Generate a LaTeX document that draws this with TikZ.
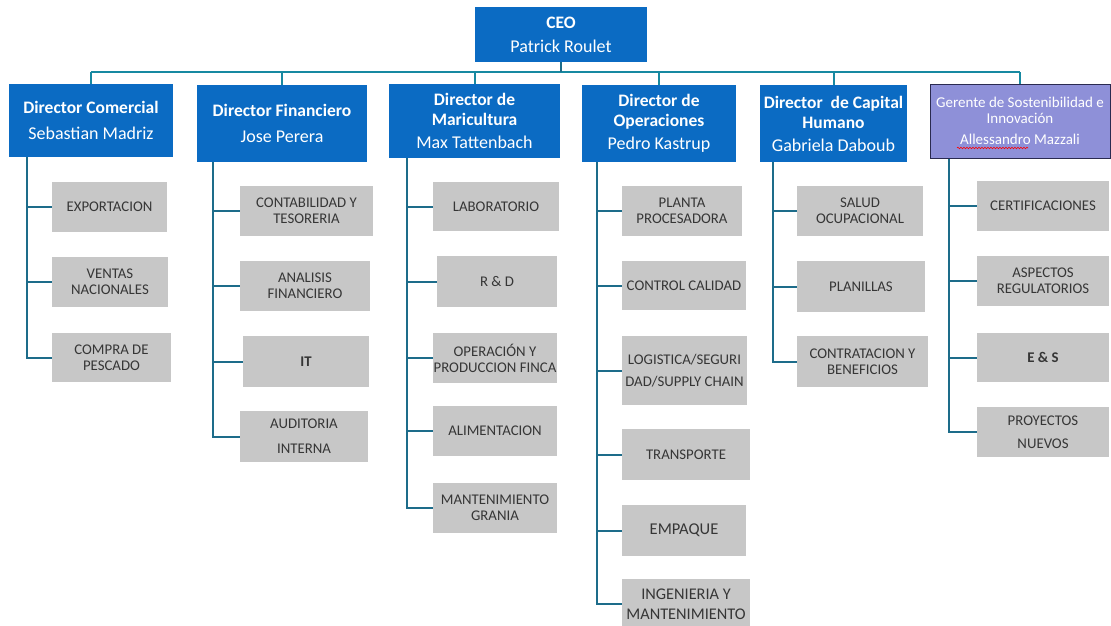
\documentclass[tikz,border=0pt]{standalone}
\usepackage{fontspec}
\setmainfont{Carlito}
\usetikzlibrary{decorations.pathmorphing}
\definecolor{dirblue}{HTML}{0B6BC3}
\definecolor{gerpurple}{HTML}{8E90D8}
\definecolor{gerborder}{HTML}{2A2A50}
\definecolor{subgray}{HTML}{C7C7C7}
\definecolor{subtext}{HTML}{363636}
\definecolor{connteal}{HTML}{1D6C8A}
\newcommand{\nm}[1]{{\mdseries\fontsize{18}{21}\selectfont #1}}
\begin{document}
\begin{tikzpicture}[x=1pt,y=-1pt,
  dirbox/.style={fill=dirblue, text=white, align=center, inner sep=0pt, font=\bfseries\fontsize{17.5}{20}\selectfont},
  gerbox/.style={fill=gerpurple, draw=gerborder, line width=1pt, text=white, align=center, inner sep=0pt, font=\fontsize{15}{19}\selectfont},
  subbox/.style={fill=subgray, text=subtext, align=center, inner sep=0pt, font=\fontsize{14.8}{16}\selectfont},
  conn/.style={draw=connteal, line width=2pt},
  bus/.style={draw=connteal!80!cyan, line width=2pt}]
\useasboundingbox (0,0) rectangle (1111,626);
\fill[white] (0,0) rectangle (1111,626);

% CEO
\node[dirbox, minimum width=172pt, minimum height=55pt] (ceo) at (561,34.5) {CEO\\[4pt]\nm{Patrick Roulet}};

% Directors
\node[dirbox, minimum width=164pt, minimum height=73pt] (d1) at (91,120.5) {Director Comercial\\[6pt]\nm{Sebastian Madriz}};
\node[dirbox, minimum width=170pt, minimum height=77pt] (d2) at (282,123.5) {Director Financiero\\[6pt]\nm{Jose Perera}};
\node[dirbox, minimum width=171pt, minimum height=74pt] (d3) at (474.5,121) {Director de\\[0pt]Maricultura\\[3pt]\nm{Max Tattenbach}};
\node[dirbox, minimum width=154pt, minimum height=77pt] (d4) at (659,123.5) {Director de\\[0pt]Operaciones\\[3pt]\nm{Pedro Kastrup}};
\node[dirbox, minimum width=147pt, minimum height=77pt] (d5) at (833.5,123.5) {Director~ de Capital\\[0pt]Humano\\[3pt]\nm{Gabriela Daboub}};
\node[gerbox, minimum width=180pt, minimum height=74pt] (d6) at (1020,121) {Gerente de Sostenibilidad e\\[-3pt]Innovación\\[2pt]Allessandro Mazzali};
\draw[red, line width=0.6pt, decorate, decoration={snake, amplitude=0.8pt, segment length=3pt}] (957,148) -- (1028,148);

% bus
\coordinate (bus) at (0,72);
\draw[bus] (d1.north |- bus) -- (d6.north |- bus);
\draw[conn] (ceo.south) -- (ceo.south |- bus);
\foreach \d in {d1,d2,d3,d4,d5,d6} {\draw[bus] (\d.north) -- (\d.north |- bus);}

% Column 1
\node[subbox, minimum width=115pt, minimum height=50pt] (c1a) at (109.5,207) {EXPORTACION};
\node[subbox, minimum width=116pt, minimum height=50pt] (c1b) at (110,282) {VENTAS\\NACIONALES};
\node[subbox, minimum width=119pt, minimum height=49pt] (c1c) at (111.5,357.5) {COMPRA DE\\PESCADO};
\coordinate (v1) at (27,0);

% Column 2
\node[subbox, minimum width=133pt, minimum height=50pt] (c2a) at (306.5,211) {CONTABILIDAD Y\\TESORERIA};
\node[subbox, minimum width=130pt, minimum height=50pt] (c2b) at (305,286) {ANALISIS\\FINANCIERO};
\node[subbox, minimum width=126pt, minimum height=51pt, font=\bfseries\fontsize{14.8}{16}\selectfont] (c2c) at (306,361.5) {IT};
\node[subbox, minimum width=128pt, minimum height=51pt] (c2d) at (304,436.5) {AUDITORIA\\[9pt]INTERNA};
\coordinate (v2) at (213,0);

% Column 3
\node[subbox, minimum width=126pt, minimum height=49pt] (c3a) at (496,206.5) {LABORATORIO};
\node[subbox, minimum width=120pt, minimum height=51pt] (c3b) at (497,281.5) {R \& D};
\node[subbox, minimum width=124pt, minimum height=50pt] (c3c) at (495,358) {OPERACIÓN Y\\PRODUCCION FINCA};
\node[subbox, minimum width=124pt, minimum height=50pt] (c3d) at (495,431) {ALIMENTACION};
\node[subbox, minimum width=124pt, minimum height=50pt] (c3e) at (495,508) {MANTENIMIENTO\\GRANIA};
\coordinate (v3) at (407,0);

% Column 4
\node[subbox, minimum width=120pt, minimum height=50pt] (c4a) at (682,211) {PLANTA\\PROCESADORA};
\node[subbox, minimum width=124pt, minimum height=49pt] (c4b) at (684,285.5) {CONTROL CALIDAD};
\node[subbox, minimum width=125pt, minimum height=69pt] (c4c) at (684.5,370.5) {LOGISTICA/SEGURI\\[6pt]DAD/SUPPLY CHAIN};
\node[subbox, minimum width=128pt, minimum height=51pt] (c4d) at (686,454.5) {TRANSPORTE};
\node[subbox, minimum width=124pt, minimum height=51pt, font=\fontsize{16.5}{18}\selectfont] (c4e) at (684,530.5) {EMPAQUE};
\node[subbox, minimum width=128pt, minimum height=50pt, font=\fontsize{16.3}{20}\selectfont] (c4f) at (686,604) {INGENIERIA Y\\MANTENIMIENTO};
\coordinate (v4) at (597,0);

% Column 5
\node[subbox, minimum width=126pt, minimum height=50pt] (c5a) at (860,211) {SALUD\\OCUPACIONAL};
\node[subbox, minimum width=128pt, minimum height=51pt] (c5b) at (861,286.5) {PLANILLAS};
\node[subbox, minimum width=131pt, minimum height=51pt] (c5c) at (862.5,361.5) {CONTRATACION Y\\BENEFICIOS};
\coordinate (v5) at (773,0);

% Column 6
\node[subbox, minimum width=132pt, minimum height=50pt] (c6a) at (1043,206) {CERTIFICACIONES};
\node[subbox, minimum width=132pt, minimum height=50pt] (c6b) at (1043,281) {ASPECTOS\\REGULATORIOS};
\node[subbox, minimum width=132pt, minimum height=49pt, font=\bfseries\fontsize{14.8}{16}\selectfont] (c6c) at (1043,357.5) {E \& S};
\node[subbox, minimum width=132pt, minimum height=50pt] (c6d) at (1043,432) {PROYECTOS\\[7pt]NUEVOS};
\coordinate (v6) at (949,0);

% connectors
\draw[conn] (d1.south -| v1) |- (c1c.west);
\foreach \s in {c1a,c1b} {\draw[conn] (\s.west) -- (\s.west -| v1);}
\draw[conn] (d2.south -| v2) |- (c2d.west);
\foreach \s in {c2a,c2b,c2c} {\draw[conn] (\s.west) -- (\s.west -| v2);}
\draw[conn] (d3.south -| v3) |- (c3e.west);
\foreach \s in {c3a,c3b,c3c,c3d} {\draw[conn] (\s.west) -- (\s.west -| v3);}
\draw[conn] (d4.south -| v4) |- (c4f.west);
\foreach \s in {c4a,c4b,c4c,c4d,c4e} {\draw[conn] (\s.west) -- (\s.west -| v4);}
\draw[conn] (d5.south -| v5) |- (c5c.west);
\foreach \s in {c5a,c5b} {\draw[conn] (\s.west) -- (\s.west -| v5);}
\draw[conn] (d6.south -| v6) |- (c6d.west);
\foreach \s in {c6a,c6b,c6c} {\draw[conn] (\s.west) -- (\s.west -| v6);}
\end{tikzpicture}
\end{document}
